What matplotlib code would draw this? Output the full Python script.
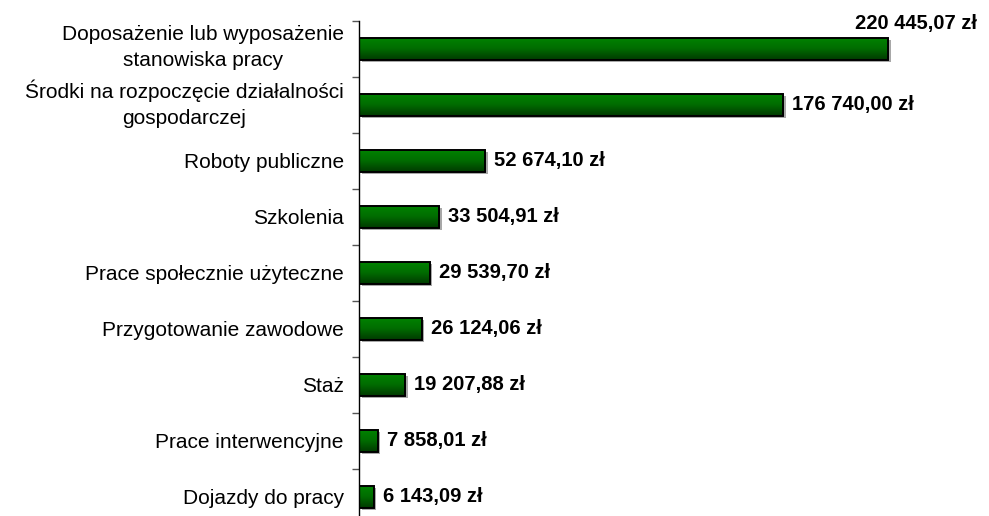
import numpy as np
import matplotlib
matplotlib.use("Agg")
import matplotlib.pyplot as plt
import matplotlib.transforms as mtransforms
from matplotlib.colors import LinearSegmentedColormap

categories = [
    "Doposażenie lub wyposażenie\nstanowiska pracy",
    "Środki na rozpoczęcie działalności\ngospodarczej",
    "Roboty publiczne",
    "Szkolenia",
    "Prace społecznie użyteczne",
    "Przygotowanie zawodowe",
    "Staż",
    "Prace interwencyjne",
    "Dojazdy do pracy",
]
values = [220445.07, 176740.00, 52674.10, 33504.91, 29539.70,
          26124.06, 19207.88, 7858.01, 6143.09]
value_labels = ["220 445,07 zł", "176 740,00 zł", "52 674,10 zł", "33 504,91 zł",
                "29 539,70 zł", "26 124,06 zł", "19 207,88 zł", "7 858,01 zł",
                "6 143,09 zł"]

plt.rcParams['font.family'] = ['Liberation Sans', 'DejaVu Sans']

W, H = 989, 516
fig = plt.figure(figsize=(W / 100, H / 100), dpi=100)
ax_left = 359 / W
ax_top = 1 - 20.7 / H
ax_bottom = 1 - 524.7 / H
ax = fig.add_axes([ax_left, ax_bottom, 1.0 - ax_left, ax_top - ax_bottom])

n = len(categories)
ypos = np.arange(n)
bars = ax.barh(ypos, values, height=0.4, color='none', edgecolor='black',
               linewidth=1.4, zorder=3)

# shadows
shadow_tr = ax.transData + mtransforms.ScaledTranslation(2.5 / 100, -2.5 / 100,
                                                         fig.dpi_scale_trans)
shadows = ax.barh(ypos, values, height=0.4, color='#a8a8a8', linewidth=0, zorder=1)
for s in shadows:
    s.set_transform(shadow_tr)

# gradient fill for each bar
grad = np.linspace(0, 1, 64).reshape(-1, 1)
cmap = LinearSegmentedColormap.from_list('g', ['#008400', '#006c00', '#003a00'])
for b in bars:
    x0, y0 = b.get_x(), b.get_y()
    w, h = b.get_width(), b.get_height()
    im = ax.imshow(grad, aspect='auto', cmap=cmap, extent=(x0, x0 + w, y0 + h, y0),
                   zorder=2, interpolation='bilinear')
    im.set_clip_path(b)

ax.set_ylim(n - 0.5, -0.5)
ax.set_xlim(0, 262500)

# value labels
for i, (v, lab) in enumerate(zip(values, value_labels)):
    if i == 0:
        ax.annotate(lab, xy=(v, i), xytext=(28, 25), textcoords='offset pixels',
                    ha='center', va='center', fontsize=14.5, fontweight='bold',
                    color='black')
    else:
        ax.annotate(lab, xy=(v, i), xytext=(9, 0), textcoords='offset pixels',
                    ha='left', va='center', fontsize=14.5, fontweight='bold',
                    color='black')

# axes styling
for s in ['top', 'right', 'bottom']:
    ax.spines[s].set_visible(False)
ax.spines['left'].set_color('black')
ax.spines['left'].set_linewidth(1.0)
ax.set_xticks([])
ax.set_yticks(ypos)
ax.set_yticklabels(categories, fontsize=15, ha='right', multialignment='center',
                   linespacing=1.45)
ax.tick_params(axis='y', which='major', length=0, pad=11)
ax.set_yticks(np.arange(n + 1) - 0.5, minor=True)
ax.tick_params(axis='y', which='minor', length=5, width=1, color='#555555',
               direction='out')
ax.set_facecolor('none')

# multi-line labels sit slightly above the bar centre
for t in ax.get_yticklabels():
    if '\n' in t.get_text():
        t.set_transform(t.get_transform() +
                        mtransforms.ScaledTranslation(0, 6.5 / 100, fig.dpi_scale_trans))

fig.savefig('out.png', dpi=100, facecolor='white')
